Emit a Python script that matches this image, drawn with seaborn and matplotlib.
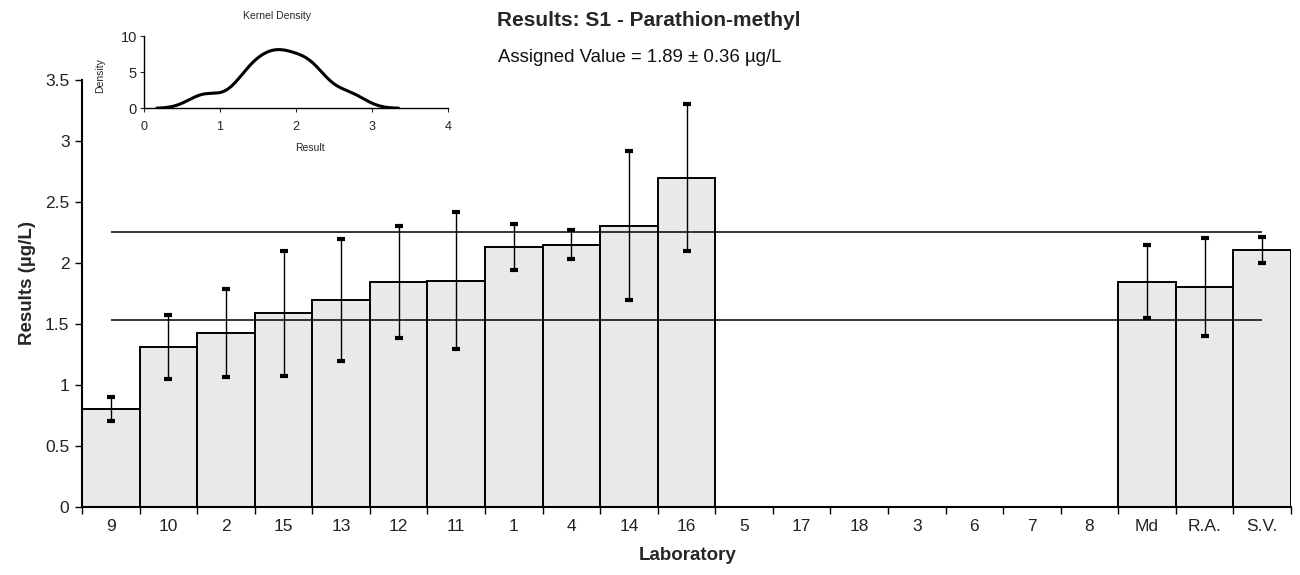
import numpy as np
import pandas as pd
import matplotlib
matplotlib.use("Agg")
import matplotlib.pyplot as plt
import seaborn as sns

# Laboratory codes in plotted order (sorted by result), followed by summary statistics
labs = ["9", "10", "2", "15", "13", "12", "11", "1", "4", "14", "16",
        "5", "17", "18", "3", "6", "7", "8", "Md", "R.A.", "S.V."]
nan = np.nan
results = [0.80, 1.31, 1.425, 1.585, 1.695, 1.845, 1.855, 2.13, 2.15, 2.305, 2.70,
           nan, nan, nan, nan, nan, nan, nan,
           1.845, 1.80, 2.105]
uncertainty = [0.10, 0.26, 0.36, 0.51, 0.50, 0.46, 0.56, 0.19, 0.12, 0.61, 0.60,
               nan, nan, nan, nan, nan, nan, nan,
               0.30, 0.40, 0.11]
n_labs = 11
assigned_value = 1.89
assigned_unc = 0.36
kde_bandwidth = 0.215
y_ticks = [0, 0.5, 1, 1.5, 2, 2.5, 3, 3.5]

sns.set_style("white")
plt.rcParams["font.family"] = ["Liberation Sans", "DejaVu Sans"]
narrow = ["Liberation Sans Narrow", "Liberation Sans", "DejaVu Sans"]
tick_color = "#222222"

W, H = 1300, 575
fig = plt.figure(figsize=(13, 5.75), dpi=100)

# main axes geometry in pixels
x0, x1 = 82, 1291
y_bot, y_top = 506.6, 80
ax = fig.add_axes([x0 / W, 1 - y_bot / H, (x1 - x0) / W, (y_bot - y_top) / H])

df = pd.DataFrame({"lab": labs, "result": results, "unc": uncertainty})
sns.barplot(data=df, x="lab", y="result", order=labs, width=1.0,
            color="#e9e9e9", saturation=1, edgecolor="black", linewidth=1.4,
            errorbar=None, ax=ax, zorder=2)

pos = np.arange(len(labs))
ax.errorbar(pos, df["result"], yerr=df["unc"], fmt="none", ecolor="black",
            elinewidth=1.0, capsize=2.6, capthick=3, zorder=4)

# assigned value +/- uncertainty limits
ax.hlines([assigned_value - assigned_unc, assigned_value + assigned_unc],
          0, len(labs) - 1, colors="black", linewidth=1.1, zorder=3)

ax.set_xlim(-0.5, len(labs) - 0.5)
ax.set_ylim(0, 3.5)
ax.set_yticks(y_ticks)
ax.set_yticklabels([f"{t:g}" for t in y_ticks], family=narrow, fontsize=12.5,
                   color=tick_color)
ax.set_xticks(np.arange(len(labs) + 1) - 0.5)
ax.set_xticklabels([])
ax.set_xticks(pos, minor=True)
ax.set_xticklabels(labs, minor=True, family=narrow, fontsize=12.5, color=tick_color)
ax.tick_params(axis="x", which="minor", length=0, pad=9)
ax.tick_params(axis="both", which="major", direction="out", length=5,
               width=1, color="black", bottom=True, left=True)
ax.tick_params(axis="y", pad=4)
ax.set_xlabel("")
ax.set_ylabel("")
for s in ["top", "right"]:
    ax.spines[s].set_visible(False)
for s in ["left", "bottom"]:
    ax.spines[s].set_color("black")
    ax.spines[s].set_linewidth(1.5)

fig.text(649 / W, 1 - 20 / H, "Results: S1 - Parathion-methyl",
         ha="center", va="center", fontsize=15, fontweight="bold")
fig.text(640 / W, 1 - 57 / H, "Assigned Value = 1.89 ± 0.36 µg/L",
         ha="center", va="center", fontsize=13.4, color="#111111")
fig.text(27 / W, 1 - 283 / H, "Results (µg/L)", rotation=90,
         ha="center", va="center", fontsize=13.5, fontweight="bold")
fig.text(688 / W, 1 - 556 / H, "Laboratory",
         ha="center", va="center", fontsize=13.5, fontweight="bold")

# kernel density inset: sum of gaussian kernels over laboratory results
ix0, ix1, iy0, iy1 = 144, 448, 108.3, 36
ins = fig.add_axes([ix0 / W, 1 - iy0 / H, (ix1 - ix0) / W, (iy0 - iy1) / H])
ins.patch.set_alpha(0)
vals = np.array(results[:n_labs])
grid = np.linspace(0.17, 3.35, 300)
dens = np.exp(-0.5 * ((grid[:, None] - vals[None, :]) / kde_bandwidth) ** 2).sum(axis=1)
dens /= kde_bandwidth * np.sqrt(2 * np.pi)
sns.lineplot(x=grid, y=dens, ax=ins, color="black", linewidth=2.2)
ins.set_xlim(0, 4)
ins.set_ylim(0, 10)
ins.set_xticks([0, 1, 2, 3, 4])
ins.set_yticks([0, 5, 10])
ins.tick_params(axis="x", labelsize=9, direction="out", length=3, width=0.8, pad=6,
                bottom=True, labelcolor=tick_color)
ins.tick_params(axis="y", labelsize=10.5, direction="out", length=3, width=0.8, pad=2,
                left=True, labelcolor=tick_color)
for s in ["top", "right"]:
    ins.spines[s].set_visible(False)
for s in ["left", "bottom"]:
    ins.spines[s].set_color("black")
    ins.spines[s].set_linewidth(1.0)
ins.set_xlabel("")
ins.set_ylabel("")
fig.text(277 / W, 1 - 16 / H, "Kernel Density", ha="center", va="center", fontsize=7.5)
fig.text(310 / W, 1 - 148 / H, "Result", ha="center", va="center", fontsize=7.5)
fig.text(100 / W, 1 - 76 / H, "Density", rotation=90, ha="center", va="center",
         fontsize=7.5)

fig.savefig("out.png", dpi=100, facecolor="white")
